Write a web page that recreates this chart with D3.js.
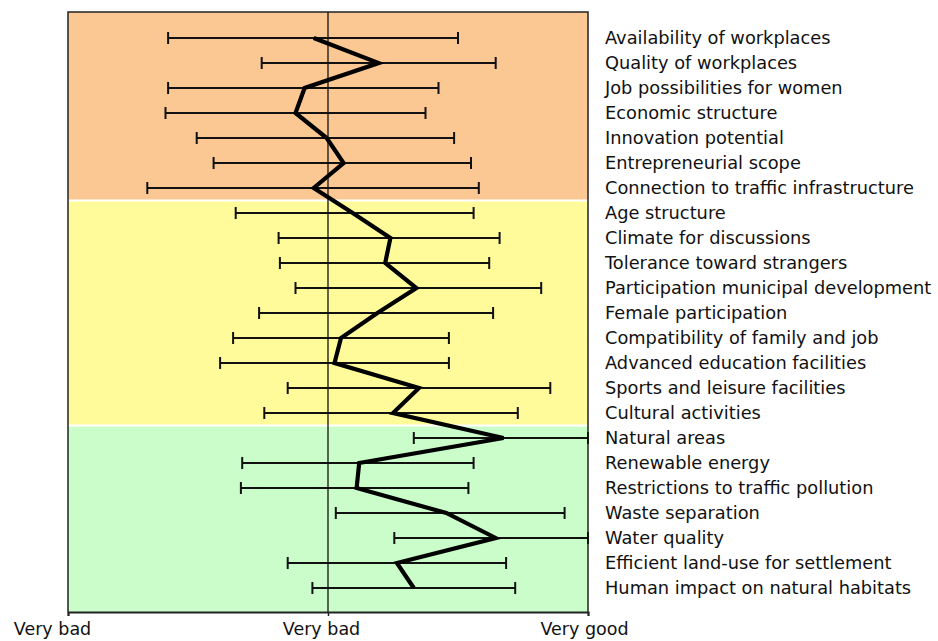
<!DOCTYPE html>
<html>
<head>
<meta charset="utf-8">
<script src="https://cdn.jsdelivr.net/npm/d3@7/dist/d3.min.js"></script>
<style>
  html, body { margin: 0; padding: 0; background: #fff; }
  svg { display: block; font-family: "DejaVu Sans", Verdana, sans-serif; }
</style>
</head>
<body>
<svg id="chart" width="938" height="641"></svg>
<script>
// Indicator names, top to bottom
const categories = [
  "Availability of workplaces",
  "Quality of workplaces",
  "Job possibilities for women",
  "Economic structure",
  "Innovation potential",
  "Entrepreneurial scope",
  "Connection to traffic infrastructure",
  "Age structure",
  "Climate for discussions",
  "Tolerance toward strangers",
  "Participation municipal development",
  "Female participation",
  "Compatibility of family and job",
  "Advanced education facilities",
  "Sports and leisure facilities",
  "Cultural activities",
  "Natural areas",
  "Renewable energy",
  "Restrictions to traffic pollution",
  "Waste separation",
  "Water quality",
  "Efficient land-use for settlement",
  "Human impact on natural habitats"
];

// Rating on a scale from -2 (very bad) to +2 (very good)
const lowValues = [
  -1.23, -0.51, -1.23, -1.25, -1.01, -0.88, -1.39,
  -0.71, -0.38, -0.37, -0.25, -0.53, -0.73, -0.83, -0.31, -0.49,
   0.66, -0.66, -0.67,  0.06,  0.51, -0.31, -0.12
];
const meanValues = [
  -0.11,  0.39, -0.18, -0.25, -0.01,  0.12, -0.11,
   0.19,  0.48,  0.44,  0.68,  0.38,  0.10,  0.05,  0.70,  0.50,
   1.35,  0.24,  0.22,  0.91,  1.29,  0.53,  0.66
];
const highValues = [
   1.00,  1.29,  0.85,  0.75,  0.97,  1.10,  1.16,
   1.12,  1.32,  1.24,  1.64,  1.27,  0.93,  0.93,  1.71,  1.46,
   2.00,  1.12,  1.08,  1.82,  2.00,  1.37,  1.44
];

// Thematic groups: first and last indicator of each band
const groupNames = ["Economy", "Society", "Environment"];
const groupFirst = [0, 7, 16];
const groupLast = [6, 15, 22];
const groupColors = ["#fbc894", "#fffb9a", "#cbfdca"];

// Axis ticks and their labels
const tickValues = [-2, 0, 2];
const tickLabels = ["Very bad", "Very bad", "Very good"];

const svg = d3.select("#chart");
const plot = { left: 68, right: 588, top: 12, bottom: 612 };

const x = d3.scaleLinear().domain([-2, 2]).range([plot.left, plot.right]);
const y = d3.scalePoint().domain(categories).range([plot.top + 1, plot.bottom + 1]).padding(1);
const step = y.step();

// Coloured background bands
const bands = groupNames.map((g, i) => ({
  name: g,
  y0: i === 0 ? plot.top : y(categories[groupFirst[i]]) - step / 2,
  y1: i === groupNames.length - 1 ? plot.bottom : y(categories[groupLast[i]]) + step / 2,
  color: groupColors[i]
}));

svg.append("g").selectAll("rect").data(bands).join("rect")
  .attr("x", plot.left)
  .attr("y", d => d.y0)
  .attr("width", plot.right - plot.left)
  .attr("height", d => d.y1 - d.y0)
  .attr("fill", d => d.color);

// Thin white separators between bands
svg.append("g").selectAll("line").data(bands.slice(1)).join("line")
  .attr("x1", plot.left).attr("x2", plot.right)
  .attr("y1", d => d.y0).attr("y2", d => d.y0)
  .attr("stroke", "#ffffff").attr("stroke-width", 2);

// Plot frame (left, top, right)
svg.append("path")
  .attr("d", `M${plot.left},${plot.bottom}V${plot.top}H${plot.right}V${plot.bottom}`)
  .attr("fill", "none").attr("stroke", "#222").attr("stroke-width", 1.5);

// Centre reference line
svg.append("line")
  .attr("x1", x(0)).attr("x2", x(0))
  .attr("y1", plot.top).attr("y2", plot.bottom)
  .attr("stroke", "#111").attr("stroke-width", 1.3);

// Range bars
const rows = categories.map((c, i) => ({ c, lo: lowValues[i], mean: meanValues[i], hi: highValues[i] }));
const capH = 6;
const bars = svg.append("g").attr("stroke", "#111").attr("fill", "none");
bars.selectAll("line.range").data(rows).join("line").attr("class", "range")
  .attr("x1", d => x(d.lo)).attr("x2", d => x(d.hi))
  .attr("y1", d => y(d.c)).attr("y2", d => y(d.c))
  .attr("stroke-width", 1.8);
bars.selectAll("line.lo").data(rows).join("line").attr("class", "lo")
  .attr("x1", d => x(d.lo)).attr("x2", d => x(d.lo))
  .attr("y1", d => y(d.c) - capH).attr("y2", d => y(d.c) + capH)
  .attr("stroke-width", 2);
bars.selectAll("line.hi").data(rows).join("line").attr("class", "hi")
  .attr("x1", d => x(d.hi)).attr("x2", d => x(d.hi))
  .attr("y1", d => y(d.c) - capH).attr("y2", d => y(d.c) + capH)
  .attr("stroke-width", 2);

// Mean profile line
const profile = d3.line().x(d => x(d.mean)).y(d => y(d.c));
svg.append("path").datum(rows)
  .attr("d", profile)
  .attr("fill", "none").attr("stroke", "#000")
  .attr("stroke-width", 4.2).attr("stroke-linejoin", "miter");

// Bottom axis
const axis = d3.axisBottom(x).tickValues(tickValues).tickSize(4).tickFormat((d, i) => tickLabels[i]);
const gAxis = svg.append("g").attr("transform", `translate(0,${plot.bottom})`).call(axis);
gAxis.select(".domain").attr("stroke", "#222").attr("stroke-width", 2);
gAxis.selectAll(".tick line").attr("stroke", "#222").attr("stroke-width", 1.5);
gAxis.selectAll(".tick text")
  .attr("font-family", "DejaVu Sans, Verdana, sans-serif")
  .attr("font-size", 17.5).attr("fill", "#111")
  .attr("y", 11).attr("dy", "0.71em")
  .attr("dx", (d, i) => i === 0 ? -16 : (i === 1 ? -7 : -4));

// Category labels on the right
svg.append("g").selectAll("text").data(categories).join("text")
  .attr("x", 605)
  .attr("y", d => y(d))
  .attr("dy", "0.35em")
  .attr("font-size", 17.8)
  .attr("fill", "#111")
  .text(d => d);
</script>
</body>
</html>
